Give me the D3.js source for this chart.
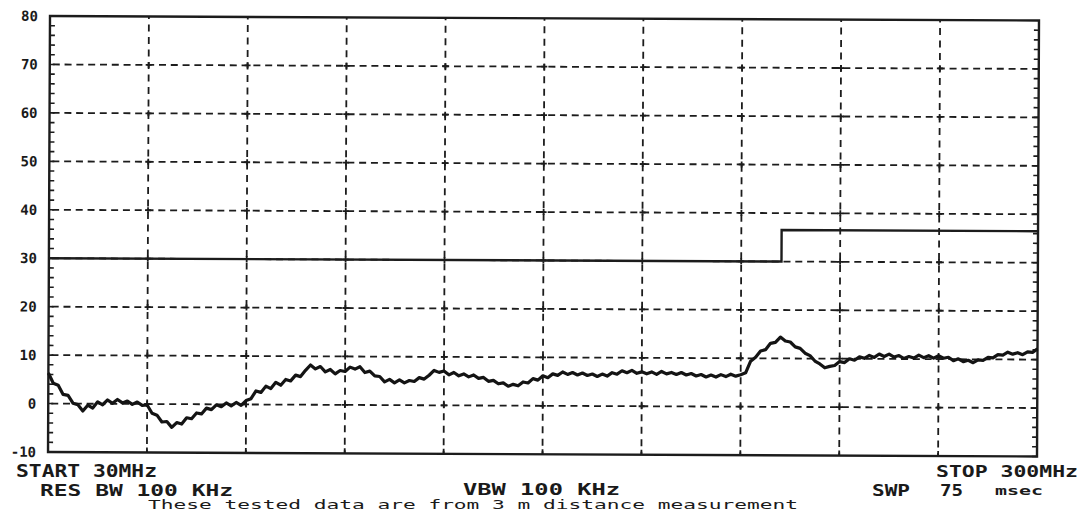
<!DOCTYPE html>
<html>
<head>
<meta charset="utf-8">
<script src="https://cdn.jsdelivr.net/npm/d3@7"></script>
<style>
  html, body { margin: 0; padding: 0; background: #fff; }
  svg { display: block; }
  text { font-family: "DejaVu Sans Mono", "Liberation Mono", monospace; fill: #1a1a1a; }
</style>
</head>
<body>
<svg id="chart" width="1083" height="512"></svg>
<script>
// ---------------- data ----------------
const freqStart = 30;   // MHz
const freqStop = 300;   // MHz
const levelMin = -10;
const levelMax = 80;
const yTickValues = [-10, 0, 10, 20, 30, 40, 50, 60, 70, 80];
const gridFreqs = [30, 57, 84, 111, 138, 165, 192, 219, 246, 273, 300];
// measured sweep (dB), equally spaced from START to STOP
const traceLevels = [
  6.3,4.2,3.8,1.9,1.7,0.1,-0.2,-1.5,-0.3,-0.9,
  0.4,-0.2,0.8,0.1,0.9,0.2,0.6,-0.1,0.4,-0.3,
  -0.2,-1.9,-2.3,-3.7,-3.6,-4.8,-3.8,-4.1,-2.8,-3.0,
  -1.8,-2.0,-0.8,-1.1,-0.1,-0.5,0.3,-0.3,0.4,-0.2,
  0.8,1.2,2.8,2.5,3.8,3.3,4.6,4.0,5.2,4.9,
  6.1,5.8,7.1,8.2,7.4,7.9,6.8,7.3,6.4,7.1,
  6.9,7.8,7.4,7.9,6.7,7.0,6.0,5.9,4.8,5.3,
  4.6,5.2,4.6,5.1,4.9,5.7,5.4,6.2,7.2,6.8,
  7.1,6.3,6.8,6.1,6.5,5.9,6.3,5.6,5.8,5.0,
  5.2,4.5,4.7,4.0,4.4,4.1,4.9,4.7,5.6,5.3,
  6.2,5.8,6.6,6.3,7.0,6.5,6.9,6.4,6.8,6.3,
  6.6,6.1,6.6,6.2,6.9,6.6,7.3,6.9,7.4,6.8,
  7.1,6.7,7.1,6.6,7.2,6.7,7.0,6.6,7.0,6.5,
  6.8,6.3,6.6,6.1,6.5,6.1,6.6,6.2,6.7,6.3,
  6.6,7.0,9.4,10.2,11.5,11.8,13.1,13.3,14.4,13.6,
  13.4,12.4,12.1,11.1,10.6,9.5,8.9,8.1,8.4,8.6,
  9.4,9.2,10.0,9.7,10.4,10.1,10.7,10.3,11.0,10.5,
  11.0,10.4,10.7,10.1,10.5,10.2,10.8,10.3,10.7,10.2,
  10.7,10.2,10.4,9.7,10.1,9.5,9.8,9.3,9.9,9.8,
  10.4,10.3,11.0,10.9,11.5,11.1,11.4,11.0,11.6,11.5,
  12.2
];
// limit line
const limitFreqs = [30, 230, 230, 300];
const limitLevels = [30, 30, 36.5, 36.5];
// annotation texts
const startLabel = "START 30MHz";
const stopLabel = "STOP 300MHz";
const rbwLabel = "RES BW  100 KHz";
const vbwLabel = "VBW  100 KHz";
const swpLabel = "SWP";
const swpValue = "75";
const swpUnit = "msec";
const noteLabel = "These tested data are from 3 m distance measurement";

// ---------------- layout ----------------
const L = 50, R = 1039, T = 16, B = 452;
const svg = d3.select("#chart");
svg.append("rect").attr("width", 1083).attr("height", 512).attr("fill", "#fff");

const x = d3.scaleLinear().domain([freqStart, freqStop]).range([L, R]);
const y = d3.scaleLinear().domain([levelMin, levelMax]).range([B, T]);

// scanned plot is slightly tilted
const g = svg.append("g").attr("transform", `rotate(0.26, ${L}, ${T})`);

const ink = "#1c1c1c";

// horizontal grid
g.append("g").selectAll("line")
  .data(yTickValues.filter(v => v > levelMin && v < levelMax))
  .join("line")
  .attr("x1", L).attr("x2", R)
  .attr("y1", d => y(d)).attr("y2", d => y(d))
  .attr("stroke", ink).attr("stroke-width", 1.8)
  .attr("stroke-dasharray", "7,4.8").attr("stroke-dashoffset", -3);

// vertical grid
g.append("g").selectAll("line")
  .data(gridFreqs.filter(f => f > freqStart && f < freqStop))
  .join("line")
  .attr("x1", d => x(d)).attr("x2", d => x(d))
  .attr("y1", T).attr("y2", B)
  .attr("stroke", ink).attr("stroke-width", 1.8)
  .attr("stroke-dasharray", "7,5.5").attr("stroke-dashoffset", -8);

// intersection marks
const inter = [];
gridFreqs.filter(f => f > freqStart && f < freqStop).forEach(f =>
  yTickValues.filter(v => v > levelMin && v < levelMax).forEach(v => inter.push([f, v])));
g.append("g").selectAll("path").data(inter).join("path")
  .attr("d", d => `M${x(d[0]) - 3},${y(d[1])}h6M${x(d[0])},${y(d[1]) - 3}v6`)
  .attr("stroke", ink).attr("stroke-width", 1.8);

// minor ticks on left/right borders
const minor = d3.range(levelMin, levelMax, 2);
g.append("g").selectAll("line").data(minor).join("line")
  .attr("x1", L).attr("x2", L + 5).attr("y1", d => y(d)).attr("y2", d => y(d))
  .attr("stroke", ink).attr("stroke-width", 1.6);
g.append("g").selectAll("line").data(minor).join("line")
  .attr("x1", R).attr("x2", R - 5).attr("y1", d => y(d)).attr("y2", d => y(d))
  .attr("stroke", ink).attr("stroke-width", 1.6);
// bottom ticks
g.append("g").selectAll("line").data(gridFreqs).join("line")
  .attr("x1", d => x(d)).attr("x2", d => x(d)).attr("y1", B).attr("y2", B - 5)
  .attr("stroke", ink).attr("stroke-width", 1.8);

// frame
g.append("rect").attr("x", L).attr("y", T).attr("width", R - L).attr("height", B - T)
  .attr("fill", "none").attr("stroke", ink).attr("stroke-width", 2.4);

// y axis labels
const yAxis = d3.axisLeft(y).tickValues(yTickValues).tickSize(0).tickPadding(12)
  .tickFormat(d => String(d));
const ya = g.append("g").attr("transform", `translate(${L},0)`).call(yAxis);
ya.select(".domain").remove();
ya.selectAll("text")
  .style("font-family", "'DejaVu Sans Mono', monospace")
  .style("font-size", "14px").style("font-weight", "bold").attr("fill", "#2a2a2a");

// limit line
const limitLine = d3.line().x((d, i) => x(limitFreqs[i])).y(d => y(d));
g.append("path").datum(limitLevels)
  .attr("d", limitLine)
  .attr("fill", "none").attr("stroke", ink).attr("stroke-width", 2.4);

// trace
const n = traceLevels.length;
const fAt = i => freqStart + i * (freqStop - freqStart) / (n - 1);
const traceLine = d3.line().x((d, i) => x(fAt(i))).y(d => y(d));
g.append("path").datum(traceLevels)
  .attr("d", traceLine)
  .attr("fill", "none").attr("stroke", "#141414").attr("stroke-width", 3.2)
  .attr("stroke-linejoin", "round");

// ---------------- annotations ----------------
function label(txt, x0, base, len, size, weight) {
  svg.append("text").attr("x", x0).attr("y", base)
    .attr("textLength", len).attr("lengthAdjust", "spacingAndGlyphs")
    .style("font-size", size + "px").style("font-weight", weight || "normal").text(txt);
}
label(startLabel, 16, 477, 141, 17, "bold");
label(rbwLabel, 40, 496, 193, 16, "bold");
label(vbwLabel, 463, 495, 157, 15, "bold");
label(stopLabel, 936, 477, 142, 16, "bold");
label(swpLabel, 872, 496, 38, 16, "bold");
label(swpValue, 940, 496, 23, 16, "bold");
label(swpUnit, 995, 495, 48, 13, "bold");
label(noteLabel, 148, 508.5, 650, 12);
</script>
</body>
</html>
